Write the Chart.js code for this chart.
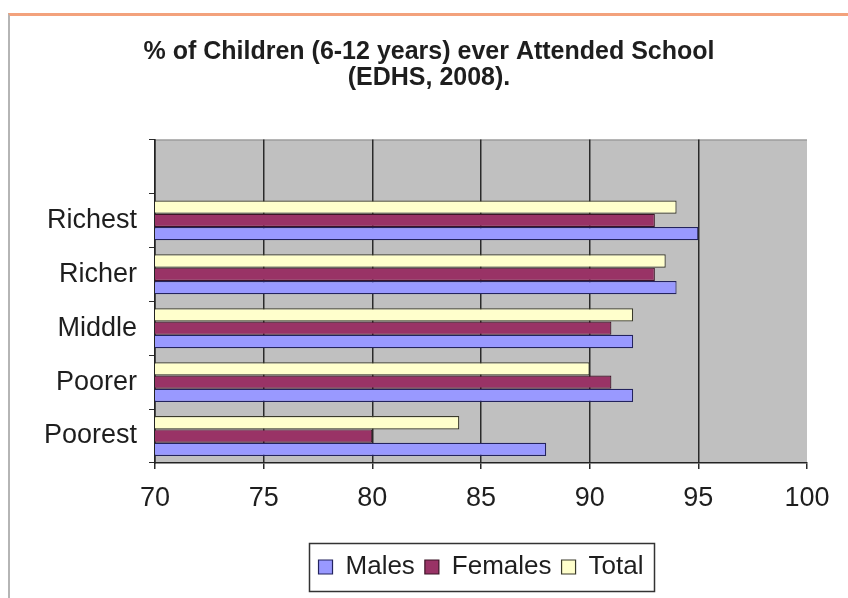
<!DOCTYPE html>
<html>
<head>
<meta charset="utf-8">
<title>% of Children (6-12 years) ever Attended School</title>
<script src="https://cdn.jsdelivr.net/npm/chart.js@4.4.1/dist/chart.umd.min.js"></script>
<style>
  html, body { margin: 0; padding: 0; background: #fff; }
  #wrap { position: relative; width: 848px; height: 598px; overflow: hidden; }
  #frame { position: absolute; left: 8px; top: 13px; width: 860px; height: 600px;
           border-top: 3px solid #f3a27c; border-left: 2px solid #b5b5b5; box-sizing: border-box; }
  canvas { position: absolute; left: 0; top: 0; }
</style>
</head>
<body>
<div id="wrap">
  <div id="frame"></div>
  <canvas id="chart" width="848" height="598"></canvas>
</div>
<script>
// wealth quintiles, listed top to bottom (first row is an empty spacer row)
const categories = ['', 'Richest', 'Richer', 'Middle', 'Poorer', 'Poorest'];
const totalValues = [null, 94, 93.5, 92, 90, 84];
const femaleValues = [null, 93, 93, 91, 91, 80];
const maleValues = [null, 95, 94, 92, 92, 88];
const xTicks = [70, 75, 80, 85, 90, 95, 100];

const FONT = "'Liberation Sans', Arial, sans-serif";
const INK = '#1e1e1e';

// gray plot background + boxed legend, drawn around the library's own parts
const plotFrame = {
  id: 'plotFrame',
  beforeDraw(chart) {
    const { ctx, chartArea: a } = chart;
    ctx.save();
    ctx.fillStyle = '#c0c0c0';
    ctx.fillRect(a.left, a.top, a.right - a.left, a.bottom - a.top);
    ctx.strokeStyle = '#8a8a8a';
    ctx.lineWidth = 1;
    ctx.beginPath();
    ctx.moveTo(a.left, a.top + 0.5);
    ctx.lineTo(a.right, a.top + 0.5);
    ctx.stroke();
    ctx.restore();
  },
  afterDraw(chart) {
    const boxes = chart.legend && chart.legend.legendHitBoxes;
    if (!boxes || !boxes.length) return;
    const left = Math.min(...boxes.map(b => b.left)) - 10;
    const right = Math.max(...boxes.map(b => b.left + b.width)) + 10;
    const top = Math.min(...boxes.map(b => b.top)) - 11;
    const bottom = Math.max(...boxes.map(b => b.top + b.height)) + 11;
    const { ctx } = chart;
    ctx.save();
    ctx.strokeStyle = '#333';
    ctx.lineWidth = 1.5;
    ctx.strokeRect(Math.round(left) + 0.5, Math.round(top) + 0.5, Math.round(right - left), Math.round(bottom - top));
    ctx.restore();
  },
};

const bar = (label, data, fill, edge) => ({
  label, data,
  backgroundColor: fill, borderColor: edge, borderWidth: 1.2, borderSkipped: false,
  categoryPercentage: 0.74, barPercentage: 1.0,
});

new Chart(document.getElementById('chart'), {
  type: 'bar',
  data: {
    labels: categories,
    datasets: [
      bar('Total', totalValues, '#ffffcc', '#3a3a2a'),
      bar('Females', femaleValues, '#993366', '#3c1426'),
      bar('Males', maleValues, '#9999ff', '#23235e'),
    ],
  },
  options: {
    indexAxis: 'y',
    responsive: false,
    animation: false,
    layout: { padding: { left: 10, right: 0, top: 39, bottom: 8 } },
    plugins: {
      title: {
        display: true,
        text: ['% of Children (6-12 years) ever Attended School', '(EDHS, 2008).'],
        color: INK,
        font: { family: FONT, size: 25, weight: 'bold', lineHeight: 1.05 },
        padding: { top: 0, bottom: 48 },
      },
      legend: {
        position: 'bottom',
        fullSize: false,
        reverse: true,
        labels: {
          color: INK,
          font: { family: FONT, size: 26 },
          boxWidth: 14, boxHeight: 14, padding: 10,
        },
      },
      tooltip: { enabled: false },
    },
    scales: {
      x: {
        min: 70, max: 100,
        afterBuildTicks: (s) => { s.ticks = xTicks.map(v => ({ value: v })); },
        afterFit: (s) => { s.height = 81; },
        border: { display: true, color: '#222', width: 1.5 },
        grid: {
          color: (c) => (c.tick && c.tick.value === 100 ? 'rgba(0,0,0,0)' : '#2a2a2a'),
          tickColor: '#2a2a2a',
          lineWidth: 1.5,
          tickLength: 6,
        },
        ticks: { color: INK, font: { family: FONT, size: 27 }, padding: 13 },
      },
      y: {
        afterFit: (s) => { s.width = 145; },
        border: { display: true, color: '#222', width: 1.5 },
        grid: { drawOnChartArea: false, color: '#2a2a2a', tickLength: 6, offset: true },
        ticks: { color: INK, font: { family: FONT, size: 27 }, padding: 12 },
      },
      // empty right-hand gutter so the plot stops short of the frame edge
      gutter: {
        type: 'category',
        position: 'right',
        afterFit: (s) => { s.width = 41; },
        border: { display: false },
        grid: { display: false },
        ticks: { display: false },
      },
    },
  },
  plugins: [plotFrame],
});
</script>
</body>
</html>
